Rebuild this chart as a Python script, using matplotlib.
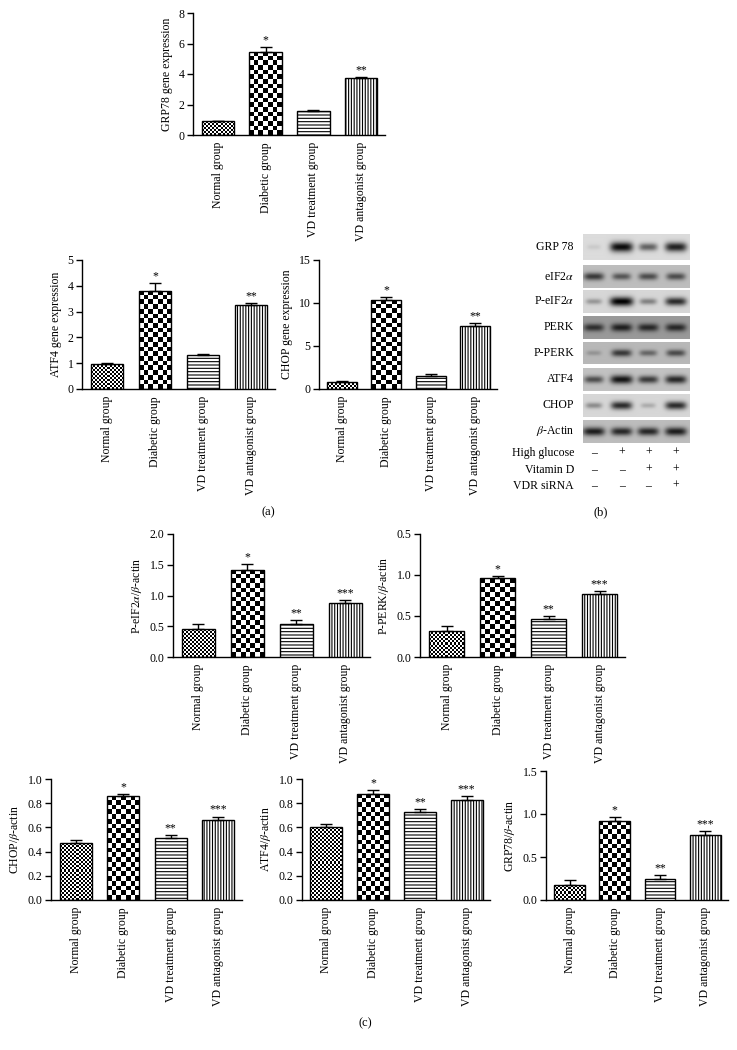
import numpy as np
import matplotlib
matplotlib.use('Agg')
import matplotlib.pyplot as plt

plt.rcParams['font.family'] = ['Liberation Serif', 'DejaVu Serif']
plt.rcParams['mathtext.fontset'] = 'stix'
plt.rcParams['hatch.linewidth'] = 0.8
plt.rcParams['hatch.color'] = 'black'

# ---- data ----
groups = ['Normal group', 'Diabetic group', 'VD treatment group', 'VD antagonist group']
marks_a = ['', '*', '', '**']
marks_c = ['', '*', '**', '***']

grp78_gene = [0.9, 5.45, 1.55, 3.75]
grp78_gene_err = [0.04, 0.32, 0.08, 0.08]
atf4_gene = [0.97, 3.8, 1.3, 3.25]
atf4_gene_err = [0.03, 0.3, 0.06, 0.1]
chop_gene = [0.85, 10.4, 1.5, 7.35]
chop_gene_err = [0.08, 0.3, 0.2, 0.3]

peif2a = [0.45, 1.42, 0.53, 0.88]
peif2a_err = [0.08, 0.09, 0.07, 0.05]
pperk = [0.32, 0.96, 0.46, 0.77]
pperk_err = [0.06, 0.03, 0.04, 0.04]
chop_ratio = [0.47, 0.86, 0.51, 0.665]
chop_ratio_err = [0.025, 0.012, 0.025, 0.025]
atf4_ratio = [0.60, 0.88, 0.73, 0.83]
atf4_ratio_err = [0.025, 0.03, 0.025, 0.03]
grp78_ratio = [0.17, 0.92, 0.25, 0.76]
grp78_ratio_err = [0.06, 0.04, 0.04, 0.04]

pperk_ticklabels = ['0.0', '0.5', '1.0', '0.5']  # as printed in the figure

# western blot (b): relative band darkness per lane, and membrane grey level
blot_rows = ['GRP 78', r'eIF2$\alpha$', r'P-eIF2$\alpha$', 'PERK', 'P-PERK',
             'ATF4', 'CHOP', r'$\beta$-Actin']
band_levels = [
    [0.08, 0.95, 0.55, 0.85],
    [0.7, 0.55, 0.6, 0.6],
    [0.3, 1.0, 0.4, 0.8],
    [0.7, 0.8, 0.75, 0.75],
    [0.2, 0.7, 0.45, 0.6],
    [0.6, 0.9, 0.7, 0.8],
    [0.35, 0.8, 0.2, 0.8],
    [0.85, 0.8, 0.8, 0.85],
]
blot_bg = [0.86, 0.74, 0.84, 0.6, 0.72, 0.76, 0.84, 0.74]
treat_rows = ['High glucose', 'Vitamin D', 'VDR siRNA']
treat_signs = [['–', '+', '+', '+'],
               ['–', '–', '+', '+'],
               ['–', '–', '–', '+']]

# ---- layout (pixels in a 737x1050 canvas) ----
W, H = 737, 1050
fig = plt.figure(figsize=(W / 100, H / 100), dpi=100)


def px_axes(x0, y_top, x1, y_bot):
    return fig.add_axes([x0 / W, 1 - y_bot / H, (x1 - x0) / W, (y_bot - y_top) / H])


def checker(ax, bar, sq):
    x0, y0 = bar.get_x(), bar.get_y()
    w, h = bar.get_width(), bar.get_height()
    (p0x, p0y), (p1x, p1y) = ax.transData.transform([(x0, y0), (x0 + w, y0 + h)])
    nc = max(1, int(round((p1x - p0x) / sq)))
    nr = max(1, int(round((p1y - p0y) / sq)))
    img = np.add.outer(np.arange(nr), np.arange(nc)) % 2
    im = ax.imshow(img, cmap='gray', vmin=0, vmax=1, extent=(x0, x0 + w, y0, y0 + h),
                   origin='lower', aspect='auto', interpolation='nearest', zorder=2)
    im.set_clip_path(bar)


def bar_panel(box, vals, errs, marks, ylabel, yticks, yticklabels=None):
    ax = px_axes(*box)
    x = np.arange(len(vals))
    ax.set_xlim(-0.52, 3.5)
    ax.set_ylim(yticks[0], yticks[-1])
    ax.set_autoscale_on(False)
    bars = ax.bar(x, vals, width=0.68, facecolor='none', edgecolor='black',
                  linewidth=1.0, zorder=3)
    bars[2].set_facecolor('white')
    bars[2].set_hatch('-----')
    bars[3].set_facecolor('white')
    bars[3].set_hatch('||||||')
    checker(ax, bars[0], 2.0)
    checker(ax, bars[1], 4.7)
    ax.errorbar(x, vals, yerr=[np.zeros(len(vals)), errs], fmt='none', ecolor='black',
                elinewidth=1.0, capsize=4.5, capthick=1.0, zorder=4)
    for xi, v, e, m in zip(x, vals, errs, marks):
        if m:
            ax.annotate(m, (xi, v + e), xytext=(0, 0.5), textcoords='offset points',
                        ha='center', va='bottom', fontsize=8.5)
    for s in ['top', 'right']:
        ax.spines[s].set_visible(False)
    for s in ['left', 'bottom']:
        ax.spines[s].set_linewidth(1.0)
    ax.set_yticks(yticks)
    if yticklabels is not None:
        ax.set_yticklabels(yticklabels)
    ax.set_xticks(x)
    ax.set_xticklabels(groups, rotation=90, fontsize=8.5)
    ax.tick_params(axis='x', length=0, pad=5)
    ax.tick_params(axis='y', length=4, width=1.0, labelsize=8.5, pad=2)
    ax.set_ylabel(ylabel, fontsize=8.5, labelpad=4)
    return ax


# (a) gene expression
bar_panel((193, 13, 385, 135), grp78_gene, grp78_gene_err, marks_a,
          'GRP78 gene expression', [0, 2, 4, 6, 8])
bar_panel((82, 260, 275, 389), atf4_gene, atf4_gene_err, marks_a,
          'ATF4 gene expression', [0, 1, 2, 3, 4, 5])
bar_panel((319, 260, 497, 389), chop_gene, chop_gene_err, marks_a,
          'CHOP gene expression', [0, 5, 10, 15])

# (c) protein ratios
bar_panel((173, 534, 370, 657), peif2a, peif2a_err, marks_c,
          r'P-eIF2$\alpha$/$\beta$-actin', [0.0, 0.5, 1.0, 1.5, 2.0],
          ['0.0', '0.5', '1.0', '1.5', '2.0'])
bar_panel((420, 534, 625, 657), pperk, pperk_err, marks_c,
          r'P-PERK/$\beta$-actin', [0.0, 0.5, 1.0, 1.5], pperk_ticklabels)
ratio_ticks = [0.0, 0.2, 0.4, 0.6, 0.8, 1.0]
ratio_labels = ['0.0', '0.2', '0.4', '0.6', '0.8', '1.0']
bar_panel((51, 779, 242, 900), chop_ratio, chop_ratio_err, marks_c,
          r'CHOP/$\beta$-actin', ratio_ticks, ratio_labels)
bar_panel((302, 779, 490, 900), atf4_ratio, atf4_ratio_err, marks_c,
          r'ATF4/$\beta$-actin', ratio_ticks, ratio_labels)
bar_panel((546, 771, 728, 900), grp78_ratio, grp78_ratio_err, marks_c,
          r'GRP78/$\beta$-actin', [0.0, 0.5, 1.0, 1.5], ['0.0', '0.5', '1.0', '1.5'])

# (b) western blot
blot_x0, blot_x1 = 583, 690
blot_y = [(234, 260), (265, 288), (290, 313), (316, 339), (342, 364),
          (368, 391), (394, 417), (420, 443)]
lane_pos = [0.1, 0.36, 0.61, 0.87]

xx = np.linspace(0, 1, 214)[None, :]
yy = np.linspace(-1, 1, 48)[:, None]
for name, lv_row, bg, (yt, yb) in zip(blot_rows, band_levels, blot_bg, blot_y):
    ax = px_axes(blot_x0, yt, blot_x1, yb)
    img = np.full((48, 214), bg)
    for cx, lv in zip(lane_pos, lv_row):
        sx = 0.06 + 0.05 * lv
        sy = 0.18 + 0.22 * lv
        img -= bg * lv * np.exp(-((xx - cx) / sx) ** 4) * np.exp(-(yy / sy) ** 2)
    ax.imshow(img, cmap='gray', vmin=0, vmax=1, aspect='auto', interpolation='bilinear')
    ax.set_axis_off()
    fig.text(574 / W, 1 - (yt + yb) / 2 / H, name, ha='right', va='center', fontsize=8.5)

treat_y = [453, 470, 486]
for name, signs, ty in zip(treat_rows, treat_signs, treat_y):
    fig.text(574 / W, 1 - ty / H, name, ha='right', va='center', fontsize=8.5)
    for lp, s in zip(lane_pos, signs):
        fig.text((blot_x0 + lp * (blot_x1 - blot_x0)) / W, 1 - ty / H, s,
                 ha='center', va='center', fontsize=8.5)

fig.text(268 / W, 1 - 512 / H, '(a)', ha='center', va='center', fontsize=9)
fig.text(601 / W, 1 - 512 / H, '(b)', ha='center', va='center', fontsize=9)
fig.text(365 / W, 1 - 1023 / H, '(c)', ha='center', va='center', fontsize=9)

fig.savefig('out.png', dpi=100)
